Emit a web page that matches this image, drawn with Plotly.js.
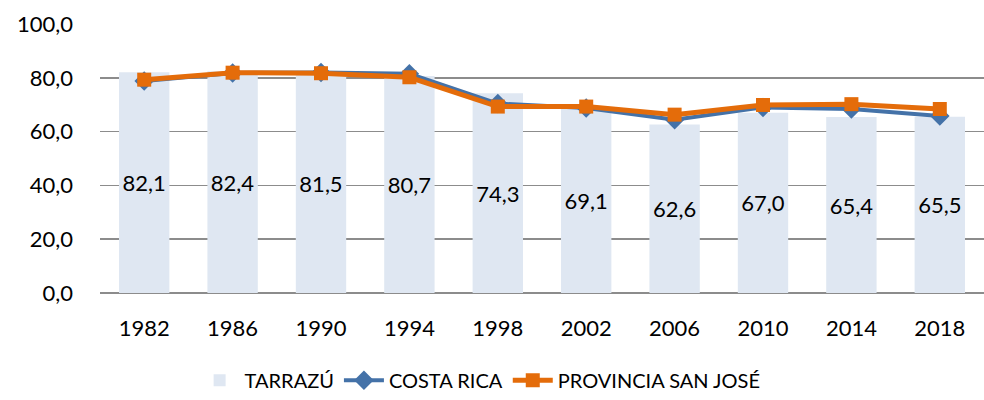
<!DOCTYPE html>
<html>
<head>
<meta charset="utf-8">
<script src="https://cdn.plot.ly/plotly-3.0.1.min.js"></script>
<style>
  body { margin: 0; background: #fff; }
  #plot { width: 984px; height: 400px; }
</style>
</head>
<body>
<div id="plot"></div>
<script>
var years = ['1982', '1986', '1990', '1994', '1998', '2002', '2006', '2010', '2014', '2018'];
var tarrazu = [82.1, 82.4, 81.5, 80.7, 74.3, 69.1, 62.6, 67.0, 65.4, 65.5];
var costaRica = [78.8, 81.8, 82.0, 81.5, 70.4, 68.8, 64.4, 69.0, 68.4, 65.8];
var sanJose = [79.3, 81.9, 81.7, 80.2, 69.3, 69.3, 66.3, 69.9, 70.2, 68.4];

var font = "Lato, 'Open Sans', sans-serif";

var traces = [{
    type: 'bar',
    name: 'TARRAZÚ',
    x: years,
    y: tarrazu,
    marker: {color: '#dfe7f2'},
    texttemplate: '%{y:.1f}',
    textposition: 'inside',
    insidetextanchor: 'middle',
    textangle: 0,
    textfont: {family: font, size: 22, color: '#000'},
    hoverinfo: 'skip'
}, {
    type: 'scatter',
    mode: 'lines+markers',
    name: 'COSTA RICA',
    x: years,
    y: costaRica,
    line: {color: '#4472a8', width: 4},
    marker: {symbol: 'diamond', size: 15, color: '#4472a8'}
}, {
    type: 'scatter',
    mode: 'lines+markers',
    name: 'PROVINCIA SAN JOSÉ',
    x: years,
    y: sanJose,
    line: {color: '#e46c0a', width: 5},
    marker: {symbol: 'square', size: 14, color: '#e46c0a'}
}];

var layout = {
    width: 984,
    height: 400,
    margin: {l: 100, r: 0, t: 24, b: 101},
    separators: ',.',
    bargap: 0.43,
    font: {family: font, size: 22, color: '#000'},
    paper_bgcolor: '#fff',
    plot_bgcolor: '#fff',
    showlegend: true,
    legend: {
        orientation: 'h',
        x: 0.43,
        xanchor: 'center',
        y: -0.324,
        yanchor: 'middle',
        font: {family: font, size: 20, color: '#000'},
        entrywidth: 0,
        itemwidth: 40
    },
    xaxis: {
        type: 'category',
        range: [-0.5, 9.5],
        tickvals: years,
        showgrid: false,
        showline: false,
        ticks: '',
        ticklabelstandoff: 20,
        tickfont: {family: font, size: 22}
    },
    yaxis: {
        range: [0, 100],
        dtick: 20,
        tickformat: '.1f',
        showgrid: true,
        gridcolor: '#8c8c8c',
        gridwidth: 1.5,
        zeroline: true,
        zerolinecolor: '#8c8c8c',
        zerolinewidth: 1.5,
        ticks: '',
        ticklabelstandoff: 26,
        tickfont: {family: font, size: 22}
    }
};

Plotly.newPlot('plot', traces, layout, {staticPlot: true});
</script>
</body>
</html>
